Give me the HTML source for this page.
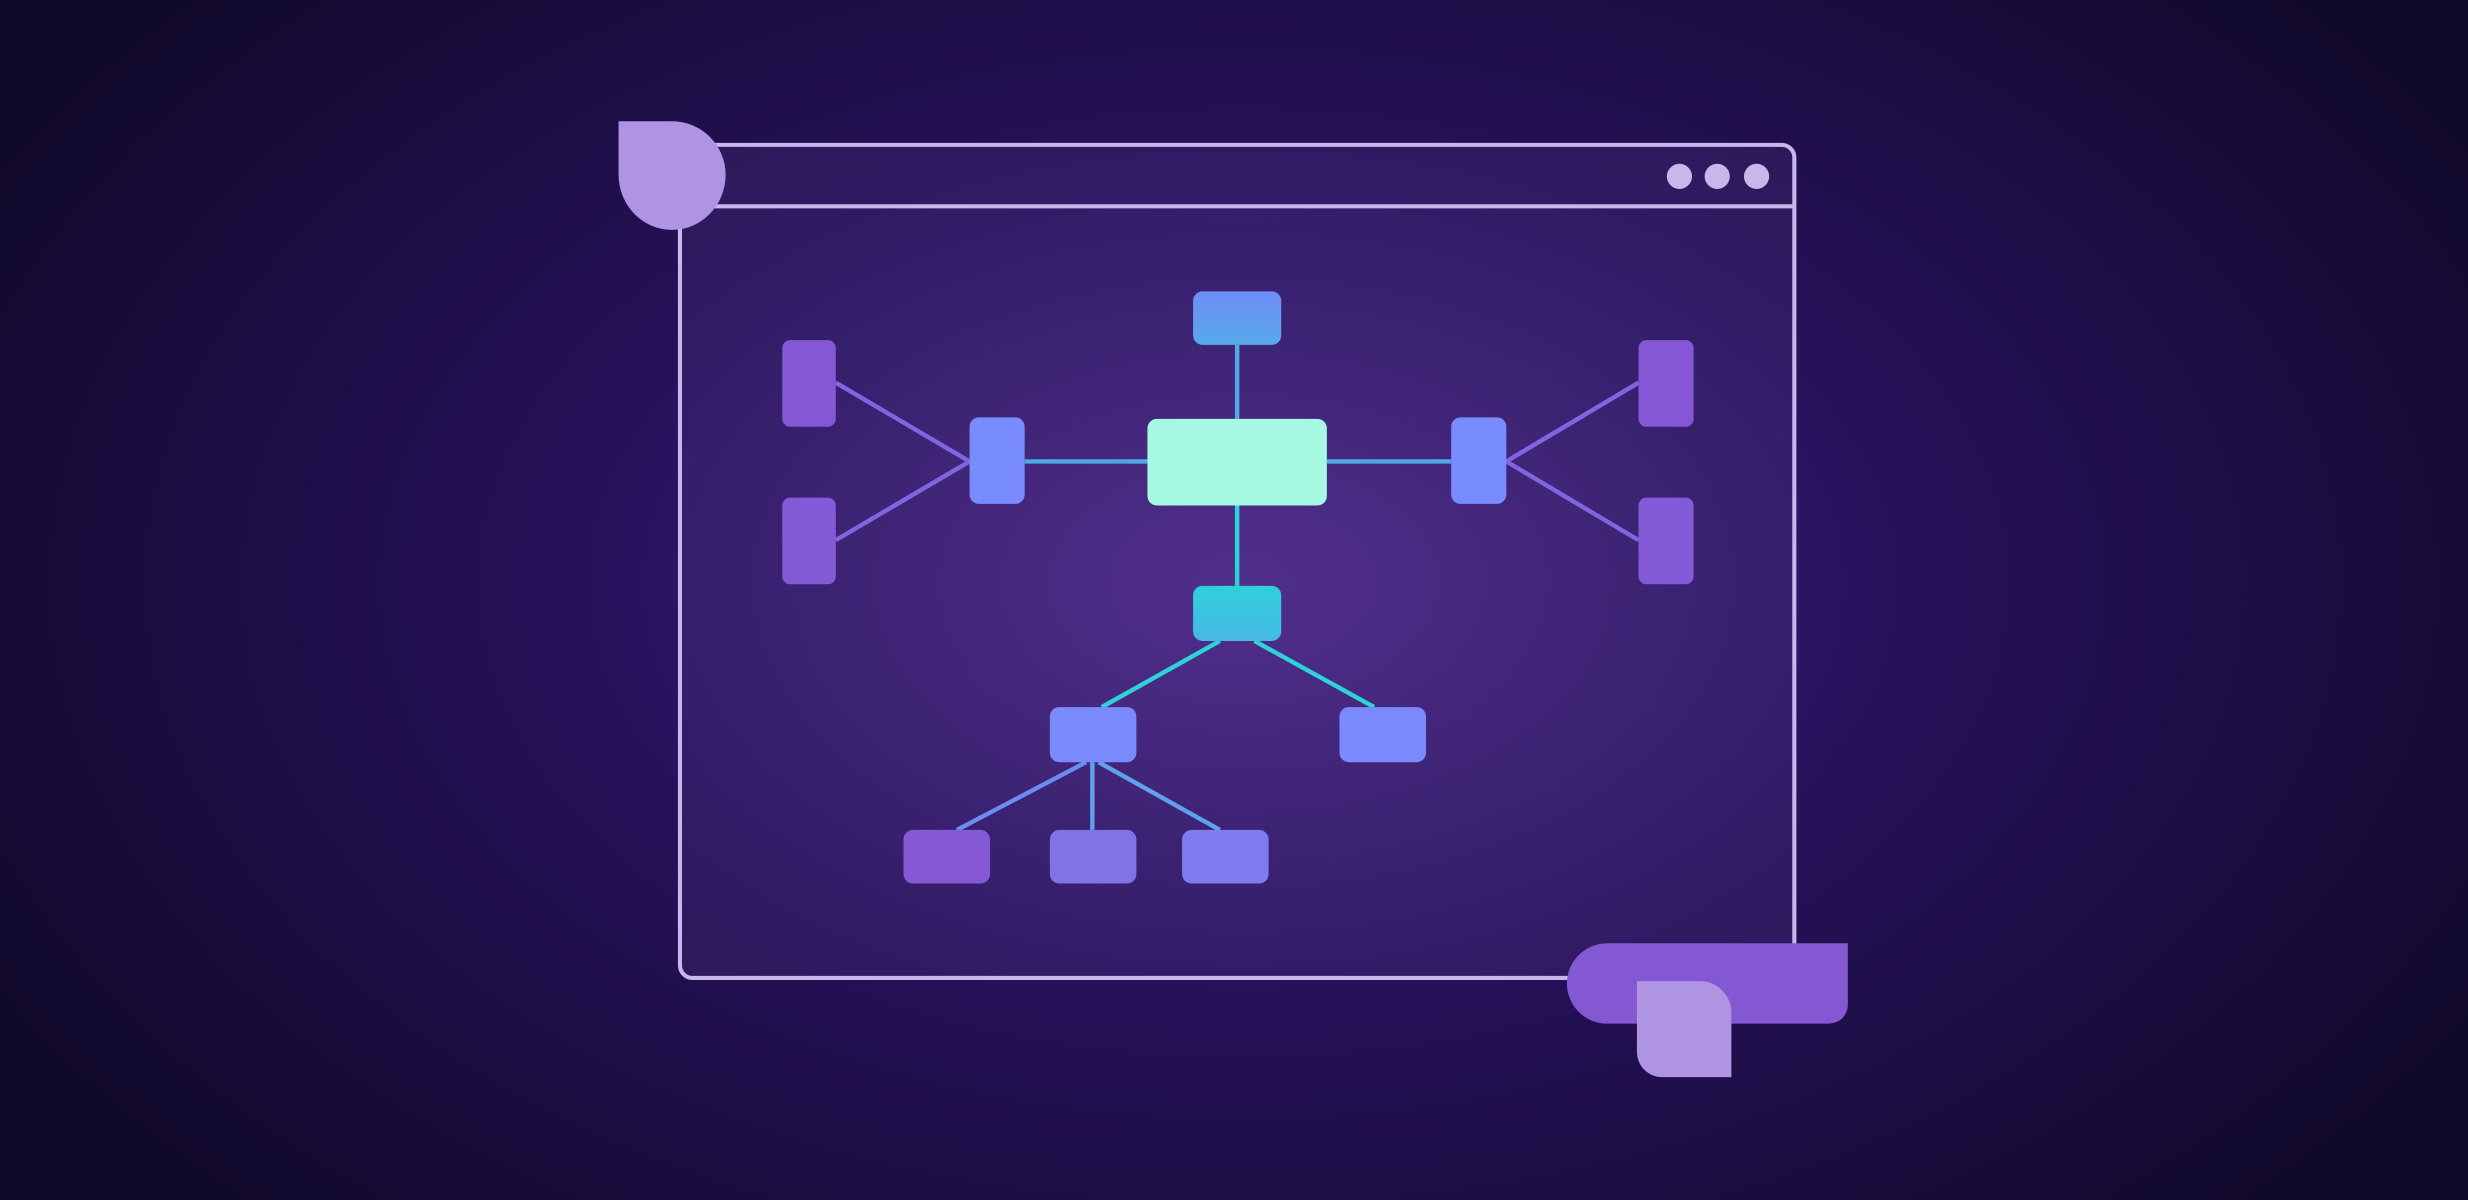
<!DOCTYPE html>
<html><head><style>html,body{margin:0;padding:0;width:2468px;height:1200px;overflow:hidden;background:#160c36}</style></head>
<body>
<svg width="2468" height="1200" viewBox="0 0 1568 762" preserveAspectRatio="none" xmlns="http://www.w3.org/2000/svg">
<defs>
<radialGradient id="bg" cx="790" cy="370" r="900" gradientTransform="translate(790 370) scale(1 0.62) translate(-790 -370)" gradientUnits="userSpaceOnUse">
<stop offset="0" stop-color="#4b2888"/><stop offset="0.45" stop-color="#27125c"/><stop offset="1" stop-color="#11092b"/></radialGradient>
<linearGradient id="tg" x1="0" y1="0" x2="0" y2="1"><stop offset="0" stop-color="#6f8cf8"/><stop offset="1" stop-color="#58aaea"/></linearGradient>
<linearGradient id="cg" x1="0" y1="0" x2="0" y2="1"><stop offset="0" stop-color="#30cfda"/><stop offset="1" stop-color="#46b8e4"/></linearGradient>
</defs>
<rect width="1568" height="762" fill="url(#bg)"/>
<rect x="432" y="92" width="708" height="529" rx="8" fill="rgba(120,90,170,0.14)" stroke="#c8b6ec" stroke-width="2.6"/>
<line x1="432" y1="131" x2="1140" y2="131" stroke="#c8b6ec" stroke-width="2.6"/>
<circle cx="1067" cy="112" r="8" fill="#c8b6ec"/><circle cx="1091" cy="112" r="8" fill="#c8b6ec"/><circle cx="1116" cy="112" r="8" fill="#c8b6ec"/>
<path d="M393 77 H427 A34 34 0 0 1 461 111 A34 35 0 0 1 427 146 A34 35 0 0 1 393 111 Z" fill="#ae94e3"/>
<g stroke-width="2.8" fill="none">
<line x1="786" y1="219" x2="786" y2="266" stroke="#58a6ea"/>
<line x1="786" y1="321" x2="786" y2="372" stroke="#2ed3d8"/>
<line x1="651" y1="293" x2="729" y2="293" stroke="#4ea8e6"/>
<line x1="843" y1="293" x2="922" y2="293" stroke="#4ea8e6"/>
<line x1="531" y1="243" x2="616" y2="293" stroke="#7d66e0"/>
<line x1="531" y1="343" x2="616" y2="293" stroke="#7d66e0"/>
<line x1="1041" y1="243" x2="957" y2="293" stroke="#7d66e0"/>
<line x1="1041" y1="343" x2="957" y2="293" stroke="#7d66e0"/>
<line x1="775" y1="407" x2="700" y2="449" stroke="#2ed3d8"/>
<line x1="797" y1="407" x2="873" y2="449" stroke="#2ed3d8"/>
<line x1="690" y1="484" x2="608" y2="527" stroke="#6c8cef"/>
<line x1="694" y1="484" x2="694" y2="527" stroke="#60a0ee"/>
<line x1="698" y1="484" x2="775" y2="527" stroke="#60a0ee"/>
</g>
<rect x="758" y="185" width="56" height="34" rx="6" fill="url(#tg)"/>
<rect x="729" y="266" width="114" height="55" rx="6" fill="#a6f8e3"/>
<rect x="616" y="265" width="35" height="55" rx="6" fill="#788cff"/>
<rect x="922" y="265" width="35" height="55" rx="6" fill="#788cff"/>
<rect x="497" y="216" width="34" height="55" rx="5" fill="#8557d6"/>
<rect x="497" y="316" width="34" height="55" rx="5" fill="#835ad8"/>
<rect x="1041" y="216" width="35" height="55" rx="5" fill="#8557d6"/>
<rect x="1041" y="316" width="35" height="55" rx="5" fill="#835ad8"/>
<rect x="758" y="372" width="56" height="35" rx="6" fill="url(#cg)"/>
<rect x="667" y="449" width="55" height="35" rx="6" fill="#7a8afc"/>
<rect x="851" y="449" width="55" height="35" rx="6" fill="#7a8afc"/>
<rect x="574" y="527" width="55" height="34" rx="6" fill="#8559d6"/>
<rect x="667" y="527" width="55" height="34" rx="6" fill="#8172e6"/>
<rect x="751" y="527" width="55" height="34" rx="6" fill="#7f7aee"/>
<path d="M1021 599 H1174 V638 A12 12 0 0 1 1162 650 H1021 A25.5 25.5 0 0 1 1021 599 Z" fill="#8457d3"/>
<path d="M1040 623 H1080 A20 20 0 0 1 1100 643 V684 H1056 A16 16 0 0 1 1040 668 Z" fill="#ae94e3"/>
</svg>
</body></html>
